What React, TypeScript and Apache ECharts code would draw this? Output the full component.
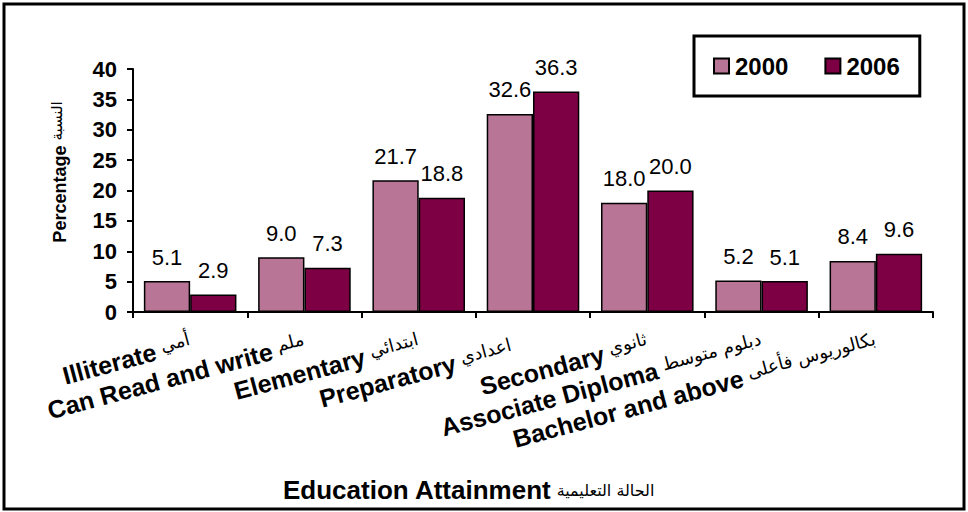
import React, { useEffect, useRef } from "react";
import * as echarts from "echarts";

const categoriesEn = [
  "Illiterate",
  "Can Read and write",
  "Elementary",
  "Preparatory",
  "Secondary",
  "Associate Diploma",
  "Bachelor and above",
];
const categoriesAr = [
  "أمي",
  "ملم",
  "ابتدائي",
  "اعدادي",
  "ثانوي",
  "دبلوم متوسط",
  "بكالوريوس فأعلى",
];
const values2000 = [5.1, 9.0, 21.7, 32.6, 18.0, 5.2, 8.4];
const values2006 = [2.9, 7.3, 18.8, 36.3, 20.0, 5.1, 9.6];
const seriesNames = ["2000", "2006"];
const yTicks = { min: 0, max: 40, interval: 5 };

const EN = "'Liberation Sans', Arial, sans-serif";
const AR = "'DejaVu Sans', 'Liberation Sans', Arial, sans-serif";

export default function App() {
  const ref = useRef<HTMLDivElement>(null);
  useEffect(() => {
    if (!ref.current) return;
    const chart = echarts.init(ref.current, null, { renderer: "svg" });
    const labelStyle = {
      show: true,
      position: "top",
      distance: 13,
      color: "#000",
      fontFamily: EN,
      fontSize: 22,
      fontWeight: "normal",
      formatter: (p: any) => Number(p.value).toFixed(1),
    };
    chart.setOption({
      animation: false,
      backgroundColor: "#fff",
      grid: { left: 133, right: 35, top: 69, bottom: 200, containLabel: false },
      legend: {
        data: seriesNames,
        left: 694,
        top: 36,
        orient: "horizontal",
        icon: "rect",
        itemWidth: 15,
        itemHeight: 15,
        itemGap: 36,
        padding: [18, 20, 18, 19],
        borderColor: "#000",
        borderWidth: 3,
        backgroundColor: "#fff",
        textStyle: { fontFamily: EN, fontSize: 24, fontWeight: "bold", color: "#000", padding: [0, 0, 0, 1] },
      },
      xAxis: {
        type: "category",
        data: categoriesEn,
        axisLine: { lineStyle: { color: "#000", width: 2 } },
        axisTick: { show: true, inside: false, length: 6, alignWithLabel: false, lineStyle: { color: "#000", width: 2 } },
        axisLabel: {
          interval: 0,
          rotate: 15,
          margin: 30,
          formatter: (v: string, i: number) =>
            `{b|${categoriesEn[i]}}{a|${categoriesAr[i]}}` + (i === 3 ? "{p|}" : ""),
          rich: {
            b: { fontFamily: EN, fontSize: 25, fontWeight: "bold", color: "#000", padding: [0, 6, 0, 0] },
            a: { fontFamily: AR, fontSize: 18, fontWeight: "normal", color: "#000", verticalAlign: "bottom", padding: [0, 0, 8, 0] },
            p: { width: 22 },
          },
        },
        splitLine: { show: false },
      },
      yAxis: {
        type: "value",
        min: yTicks.min,
        max: yTicks.max,
        interval: yTicks.interval,
        axisLine: { show: true, lineStyle: { color: "#000", width: 2 } },
        axisTick: { show: true, inside: false, length: 6, lineStyle: { color: "#000", width: 2 } },
        axisLabel: { margin: 16, fontFamily: EN, fontSize: 22, fontWeight: "bold", color: "#000" },
        splitLine: { show: false },
      },
      series: [
        {
          name: seriesNames[0],
          type: "bar",
          data: values2000,
          barGap: "0%",
          barCategoryGap: "19%",
          itemStyle: { color: "#B97595", borderColor: "#000", borderWidth: 1.5 },
          label: labelStyle,
        },
        {
          name: seriesNames[1],
          type: "bar",
          data: values2006,
          barGap: "0%",
          barCategoryGap: "19%",
          itemStyle: { color: "#7D0044", borderColor: "#000", borderWidth: 1.5 },
          label: labelStyle,
        },
      ],
      graphic: [
        {
          type: "rect",
          shape: { x: 4, y: 4, width: 960, height: 505 },
          style: { fill: "none", stroke: "#000", lineWidth: 3 },
          silent: true,
          z: 100,
        },
        {
          type: "text",
          x: 60,
          y: 172,
          rotation: Math.PI / 2,
          style: {
            text: "{b|Percentage}{a|النسبة}",
            align: "center",
            verticalAlign: "middle",
            rich: {
              b: { fontFamily: EN, fontSize: 18, fontWeight: "bold", fill: "#000", color: "#000", padding: [0, 5, 0, 0] },
              a: { fontFamily: AR, fontSize: 15, fontWeight: "normal", fill: "#000", color: "#000", verticalAlign: "bottom", padding: [0, 0, 6, 0] },
            },
          },
        },
        {
          type: "text",
          x: 283,
          y: 490,
          style: {
            text: "{b|Education Attainment}{a|الحالة التعليمية}",
            align: "left",
            verticalAlign: "middle",
            rich: {
              b: { fontFamily: EN, fontSize: 26, fontWeight: "bold", fill: "#000", color: "#000", padding: [0, 5, 0, 0] },
              a: { fontFamily: AR, fontSize: 16, fontWeight: "normal", fill: "#000", color: "#000" },
            },
          },
        },
      ],
    });
    return () => chart.dispose();
  }, []);
  return (
    <div
      ref={ref}
      style={{ position: "absolute", left: 0, top: 0, width: 968, height: 512, background: "#fff" }}
    />
  );
}
